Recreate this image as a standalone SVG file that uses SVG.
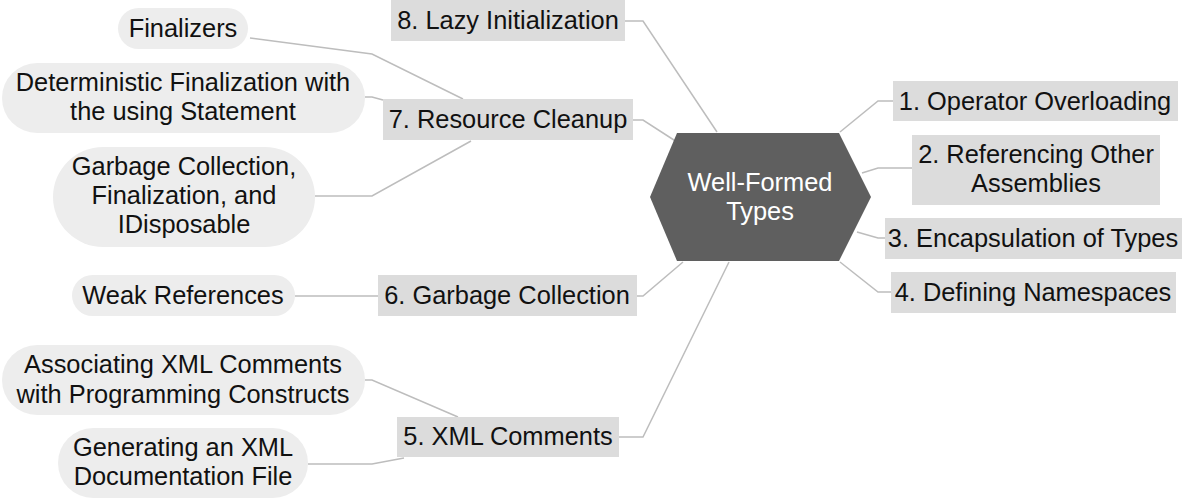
<svg xmlns="http://www.w3.org/2000/svg" width="1188" height="500" viewBox="0 0 1188 500">
<style>
.t{font-family:"Liberation Sans",Arial,sans-serif;font-size:25.4px;fill:#111;text-anchor:middle}
.w{fill:#fff}
.box{fill:#dcdcdc}
.pill{fill:#ededed}
.c{fill:none;stroke:#bdbdbd;stroke-width:1.5}
</style>
<rect width="1188" height="500" fill="#fff"/>
<g id="connectors">
<polyline class="c" points="625,21 643,21 717,132"/>
<polyline class="c" points="633,120 643,120 677,142"/>
<polyline class="c" points="250,38 372,54 463,99"/>
<polyline class="c" points="365,97 372,97 383,100"/>
<polyline class="c" points="315,196 372,196 471,141"/>
<polyline class="c" points="295,296 378,296"/>
<polyline class="c" points="637,296 643,296 683,262"/>
<polyline class="c" points="619,437 643,437 729,262"/>
<polyline class="c" points="365,380 372,380 458,417"/>
<polyline class="c" points="308,464 372,464 404,458"/>
<polyline class="c" points="840,132 878,101 893,101"/>
<polyline class="c" points="862,173 878,168 912,168"/>
<polyline class="c" points="857,232 878,238 885,238"/>
<polyline class="c" points="840,262 878,292 891,292"/>
</g>
<g id="center">
<polygon points="650,197 677,133 839,133 871,197 839,261 677,261" fill="#5f5f5f"/>
<text class="t w" x="760" y="191">Well-Formed</text>
<text class="t w" x="760" y="220">Types</text>
</g>
<g id="n8"><rect class="box" x="391" y="0" width="234" height="41"/><text class="t" x="508" y="29">8. Lazy Initialization</text></g>
<g id="n7"><rect class="box" x="383" y="99" width="250" height="41"/><text class="t" x="508" y="128">7. Resource Cleanup</text></g>
<g id="n6"><rect class="box" x="378" y="275" width="259" height="41"/><text class="t" x="507" y="304">6. Garbage Collection</text></g>
<g id="n5"><rect class="box" x="397" y="417" width="222" height="40"/><text class="t" x="508" y="445">5. XML Comments</text></g>
<g id="n1"><rect class="box" x="893" y="81" width="285" height="40"/><text class="t" x="1035" y="110">1. Operator Overloading</text></g>
<g id="n2"><rect class="box" x="912" y="135" width="248" height="70"/><text class="t" x="1036" y="163">2. Referencing Other</text><text class="t" x="1036" y="192">Assemblies</text></g>
<g id="n3"><rect class="box" x="885" y="218" width="297" height="41"/><text class="t" x="1033" y="247">3. Encapsulation of Types</text></g>
<g id="n4"><rect class="box" x="891" y="272" width="285" height="41"/><text class="t" x="1033" y="301">4. Defining Namespaces</text></g>
<g id="p-finalizers"><rect class="pill" x="118" y="8" width="130" height="41" rx="20.5"/><text class="t" x="183" y="37">Finalizers</text></g>
<g id="p-deterministic"><rect class="pill" x="2" y="63" width="363" height="70" rx="35"/><text class="t" x="183" y="91">Deterministic Finalization with</text><text class="t" x="183" y="120">the using Statement</text></g>
<g id="p-gc"><rect class="pill" x="53" y="147" width="262" height="100" rx="50"/><text class="t" x="184" y="175">Garbage Collection,</text><text class="t" x="184" y="204">Finalization, and</text><text class="t" x="184" y="233">IDisposable</text></g>
<g id="p-weak"><rect class="pill" x="72" y="275" width="223" height="41" rx="20.5"/><text class="t" x="183" y="304">Weak References</text></g>
<g id="p-assoc"><rect class="pill" x="2" y="345" width="363" height="70" rx="35"/><text class="t" x="183" y="373">Associating XML Comments</text><text class="t" x="183" y="403">with Programming Constructs</text></g>
<g id="p-gen"><rect class="pill" x="58" y="428" width="250" height="70" rx="35"/><text class="t" x="183" y="456">Generating an XML</text><text class="t" x="183" y="485">Documentation File</text></g>
</svg>
